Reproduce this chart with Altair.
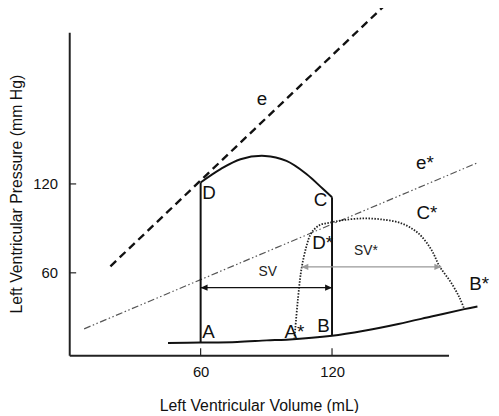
import altair as alt
import pandas as pd

FONT = "Liberation Sans, Arial, sans-serif"

# ---- data (volume mL, pressure mm Hg) ----
edpvr_v = [45.1, 60, 76.7, 90.2, 99.2, 120, 135.3, 150.3, 165.4, 180.4, 186.4]
edpvr_p = [12.7, 12.9, 13.3, 14.4, 14.9, 17.5, 21.1, 25.5, 30.5, 35.5, 37.3]

loop_top_v = [60, 69.1, 78.2, 89.4, 99.2, 108.3, 115.8, 120]
loop_top_p = [121, 130, 136.7, 138.9, 135.5, 126.7, 116.7, 111]

wall_seg = ["AD", "AD", "CB", "CB"]
wall_v = [60, 60, 120, 120]
wall_p = [12.9, 121, 111, 17.5]

star_v = [102.8, 103.2, 104.5, 106, 108.3, 110.5, 114.3, 119.5, 124.8, 133.8,
          142.9, 151.9, 159.4, 165.4, 169.1, 174.4, 178.2, 180.4]
star_p = [15.3, 22, 43.3, 62.2, 77.8, 86.7, 92.2, 94, 95.5, 96.7,
          96, 93.3, 86.7, 75.5, 64.4, 53.3, 43.3, 35.5]

e_v = [18.8, 145.1]
e_p = [64.4, 242]
estar_v = [6.8, 186.3]
estar_p = [22.2, 134.2]

sv_v = [60, 120]
sv_p = 50
svstar_v = [106, 169.9]
svstar_p = 64

lab_text = ["A", "B", "C", "D", "A*", "B*", "C*", "D*", "e", "e*"]
lab_v = [63.6, 116.1, 114.8, 63.8, 102.8, 187.2, 163.3, 115.7, 88, 162.4]
lab_p = [19.9, 23.9, 109.2, 113.9, 19.9, 52.5, 100.2, 80, 177.5, 134.4]

sv_text = ["SV", "SV*"]
sv_lab_v = [90.6, 135.5]
sv_lab_p = [60.5, 74.4]

tick_values = [60, 120]

x_domain = [0, 173.2]
y_domain = [4.4, 222.4]

W, H = 384, 327

# ---- tables ----
edpvr = pd.DataFrame({"v": edpvr_v, "p": edpvr_p, "i": range(len(edpvr_v))})
top = pd.DataFrame({"v": loop_top_v, "p": loop_top_p, "i": range(len(loop_top_v))})
walls = pd.DataFrame({"seg": wall_seg, "v": wall_v, "p": wall_p})
star = pd.DataFrame({"v": star_v, "p": star_p, "i": range(len(star_v))})
e_df = pd.DataFrame({"v": e_v, "p": e_p})
estar_df = pd.DataFrame({"v": estar_v, "p": estar_p})
sv_df = pd.DataFrame({"v": sv_v, "p": [sv_p] * 2})
svs_df = pd.DataFrame({"v": svstar_v, "p": [svstar_p] * 2})
labels = pd.DataFrame({"t": lab_text, "v": lab_v, "p": lab_p})
svlabels = pd.DataFrame({"t": sv_text, "v": sv_lab_v, "p": sv_lab_p})
ticks = pd.DataFrame({"val": tick_values})

X = alt.X("v:Q", scale=alt.Scale(domain=x_domain, nice=False, zero=False),
          axis=alt.Axis(values=tick_values, ticks=False, grid=False,
                        domainColor="#222", domainWidth=2,
                        labelFont=FONT, labelFontSize=15, labelColor="#111",
                        labelPadding=10, title="Left Ventricular Volume (mL)",
                        titleFont=FONT, titleFontSize=16, titleFontWeight="normal",
                        titleColor="#111", titlePadding=18))
Y = alt.Y("p:Q", scale=alt.Scale(domain=y_domain, nice=False, zero=False),
          axis=alt.Axis(values=tick_values, ticks=False, grid=False,
                        domainColor="#222", domainWidth=2,
                        labelFont=FONT, labelFontSize=15, labelColor="#111",
                        labelPadding=12, title="Left Ventricular Pressure (mm Hg)",
                        titleFont=FONT, titleFontSize=16, titleFontWeight="normal",
                        titleColor="#111", titlePadding=8))

base_x = alt.X("v:Q", scale=alt.Scale(domain=x_domain, nice=False, zero=False))
base_y = alt.Y("p:Q", scale=alt.Scale(domain=y_domain, nice=False, zero=False))

l_edpvr = alt.Chart(edpvr).mark_line(color="#111", strokeWidth=2, interpolate="catmull-rom").encode(
    x=X, y=Y, order="i:Q")
l_top = alt.Chart(top).mark_line(color="#111", strokeWidth=2, interpolate="catmull-rom").encode(
    x=base_x, y=base_y, order="i:Q")
l_walls = alt.Chart(walls).mark_line(color="#111", strokeWidth=2).encode(
    x=base_x, y=base_y, detail="seg:N")
l_star = alt.Chart(star).mark_line(color="#222", strokeWidth=1.8, strokeDash=[1.5, 1.5],
                                    interpolate="catmull-rom").encode(
    x=base_x, y=base_y, order="i:Q")
l_e = alt.Chart(e_df).mark_line(color="#111", strokeWidth=2.4, strokeDash=[8, 5]).encode(
    x=base_x, y=base_y)
l_estar = alt.Chart(estar_df).mark_line(color="#555", strokeWidth=1.2,
                                         strokeDash=[7, 2.5, 1.5, 2.5, 1.5, 2.5]).encode(
    x=base_x, y=base_y)

l_sv = alt.Chart(sv_df).mark_line(color="#111", strokeWidth=1.3).encode(x=base_x, y=base_y)
l_svs = alt.Chart(svs_df).mark_line(color="#999", strokeWidth=1.3).encode(x=base_x, y=base_y)

LEFT = "M0,0L1,-0.45L1,0.45Z"
RIGHT = "M0,0L-1,-0.45L-1,0.45Z"

def heads(df, color):
    lft = alt.Chart(df.iloc[[0]]).mark_point(shape=LEFT, size=196, filled=True, opacity=1,
                                             color=color, strokeWidth=0).encode(x=base_x, y=base_y)
    rgt = alt.Chart(df.iloc[[1]]).mark_point(shape=RIGHT, size=196, filled=True, opacity=1,
                                             color=color, strokeWidth=0).encode(x=base_x, y=base_y)
    return lft + rgt

t_lab = alt.Chart(labels).mark_text(font=FONT, fontSize=19, color="#111",
                                    align="center", baseline="middle").encode(
    x=base_x, y=base_y, text="t:N")
t_sv = alt.Chart(svlabels).mark_text(font=FONT, fontSize=14, color="#222",
                                     align="center", baseline="middle").encode(
    x=base_x, y=base_y, text="t:N")

xt = alt.Chart(ticks).mark_rule(color="#222", strokeWidth=1.2).encode(
    x=alt.X("val:Q", scale=alt.Scale(domain=x_domain, nice=False, zero=False)),
    y=alt.value(H), y2=alt.value(H - 7))
yt = alt.Chart(ticks).mark_rule(color="#222", strokeWidth=1.2).encode(
    y=alt.Y("val:Q", scale=alt.Scale(domain=y_domain, nice=False, zero=False)),
    x=alt.value(0), x2=alt.value(7))

chart = alt.layer(
    l_edpvr, l_estar, l_e, l_top, l_walls, l_star, l_sv, l_svs,
    heads(sv_df, "#111"), heads(svs_df, "#999"), t_lab, t_sv, xt, yt
).properties(
    width=W, height=H,
    autosize=alt.AutoSizeParams(type="none"),
    padding={"left": 62, "top": 22, "right": 43, "bottom": 56},
    background="white",
).configure_view(stroke=None)

chart.save("out.html", embed_options={"renderer": "svg", "actions": False})
